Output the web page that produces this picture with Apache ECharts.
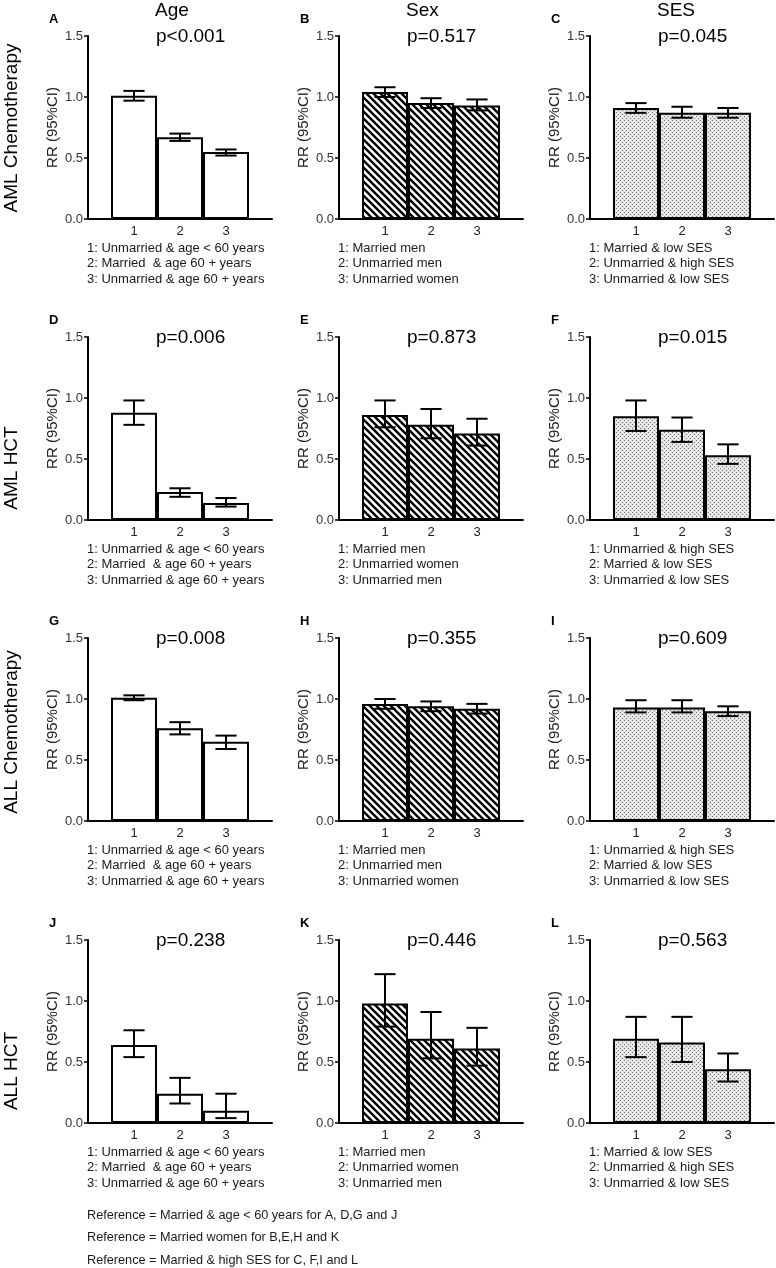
<!DOCTYPE html>
<html>
<head>
<meta charset="utf-8">
<script src="https://cdn.jsdelivr.net/npm/echarts@6/dist/echarts.min.js"></script>
<style>
html, body { margin: 0; padding: 0; background: #fff; }
#main { width: 776px; height: 1268px; }
</style>
</head>
<body>
<div id="main"></div>
<script>
// ---- data ----
var panelLetters = ['A', 'B', 'C', 'D', 'E', 'F', 'G', 'H', 'I', 'J', 'K', 'L'];
var colTitles = ['Age', 'Sex', 'SES'];
var rowTitles = ['AML Chemotherapy', 'AML HCT', 'ALL Chemotherapy', 'ALL HCT'];
var pValues = ['p<0.001', 'p=0.517', 'p=0.045',
               'p=0.006', 'p=0.873', 'p=0.015',
               'p=0.008', 'p=0.355', 'p=0.609',
               'p=0.238', 'p=0.446', 'p=0.563'];
var xTickLabels = ['1', '2', '3'];
var yTicks = [0, 0.5, 1.0, 1.5];

// relative risk per panel (bars 1..3)
var rr = [
    [1.01, 0.67, 0.55], [1.04, 0.95, 0.93], [0.91, 0.87, 0.87],
    [0.88, 0.23, 0.14], [0.86, 0.78, 0.71], [0.85, 0.74, 0.53],
    [1.01, 0.76, 0.65], [0.96, 0.94, 0.92], [0.93, 0.93, 0.90],
    [0.64, 0.24, 0.10], [0.98, 0.69, 0.61], [0.69, 0.66, 0.44]
];
var ciLow = [
    [0.97, 0.64, 0.52], [1.00, 0.91, 0.89], [0.87, 0.83, 0.83],
    [0.78, 0.19, 0.11], [0.76, 0.67, 0.61], [0.73, 0.64, 0.46],
    [0.99, 0.71, 0.59], [0.92, 0.90, 0.88], [0.89, 0.89, 0.86],
    [0.54, 0.16, 0.04], [0.79, 0.53, 0.47], [0.54, 0.50, 0.34]
];
var ciHigh = [
    [1.05, 0.70, 0.57], [1.08, 0.99, 0.98], [0.95, 0.92, 0.91],
    [0.98, 0.26, 0.18], [0.98, 0.91, 0.83], [0.98, 0.84, 0.62],
    [1.03, 0.81, 0.70], [1.00, 0.98, 0.96], [0.99, 0.99, 0.94],
    [0.76, 0.37, 0.24], [1.22, 0.91, 0.78], [0.87, 0.87, 0.57]
];

var ageGroups = ['Unmarried & age < 60 years', 'Married  & age 60 + years', 'Unmarried & age 60 + years'];
var groupNames = [
    ageGroups, ['Married men', 'Unmarried men', 'Unmarried women'], ['Married & low SES', 'Unmarried & high SES', 'Unmarried & low SES'],
    ageGroups, ['Married men', 'Unmarried women', 'Unmarried men'], ['Unmarried & high SES', 'Married & low SES', 'Unmarried & low SES'],
    ageGroups, ['Married men', 'Unmarried men', 'Unmarried women'], ['Unmarried & high SES', 'Married & low SES', 'Unmarried & low SES'],
    ageGroups, ['Married men', 'Unmarried women', 'Unmarried men'], ['Married & low SES', 'Unmarried & high SES', 'Unmarried & low SES']
];
var refNotes = [
    'Reference = Married & age < 60 years for A, D,G and J',
    'Reference = Married women for B,E,H and K',
    'Reference = Married & high SES for C, F,I and L'
];

// ---- layout ----
var FONT = '"Liberation Sans", Arial, sans-serif';
var colLeft = [88, 339, 590];
var rowTop = [36, 337, 638, 940];
var gridW = 184, gridH = 183;
var rowLabelY = [128, 468, 732, 1071];

// fill patterns
function stripePattern() {
    var n = 7;
    var c = document.createElement('canvas');
    c.width = n; c.height = n;
    var g = c.getContext('2d');
    g.fillStyle = '#fff';
    g.fillRect(0, 0, n, n);
    g.strokeStyle = '#000';
    g.lineWidth = 2.4;
    g.beginPath();
    for (var k = -1; k <= 1; k++) {
        g.moveTo(k * n - 1, -1);
        g.lineTo(k * n + n + 1, n + 1);
    }
    g.stroke();
    return c;
}
function dotPattern() {
    var c = document.createElement('canvas');
    c.width = 4; c.height = 4;
    var g = c.getContext('2d');
    g.fillStyle = '#e2e2e2';
    g.fillRect(0, 0, 4, 4);
    g.fillStyle = '#767676';
    g.fillRect(0, 0, 1, 1);
    g.fillRect(2, 2, 1, 1);
    g.fillStyle = '#ffffff';
    g.fillRect(2, 0, 1, 1);
    g.fillRect(0, 2, 1, 1);
    return c;
}
var fills = ['#ffffff', {image: stripePattern(), repeat: 'repeat'}, {image: dotPattern(), repeat: 'repeat'}];

function renderErr(params, api) {
    var x = api.value(0);
    var lo = api.coord([x, api.value(1)]);
    var hi = api.coord([x, api.value(2)]);
    var half = api.size([1, 0])[0] * 0.23;
    var st = {stroke: '#000', lineWidth: 2};
    return {
        type: 'group',
        children: [
            {type: 'line', shape: {x1: hi[0], y1: hi[1], x2: lo[0], y2: lo[1]}, style: st},
            {type: 'line', shape: {x1: hi[0] - half, y1: hi[1], x2: hi[0] + half, y2: hi[1]}, style: st},
            {type: 'line', shape: {x1: lo[0] - half, y1: lo[1], x2: lo[0] + half, y2: lo[1]}, style: st}
        ]
    };
}

var grids = [], xAxes = [], yAxes = [], series = [], graphics = [];
var axisCats = [''].concat(xTickLabels, [' ']);

function txt(x, y, text, size, opts) {
    opts = opts || {};
    return {
        type: 'text',
        x: x, y: y,
        rotation: opts.rotation || 0,
        style: {
            text: text,
            font: (opts.bold ? 'bold ' : '') + size + 'px ' + FONT,
            fill: opts.color || '#000',
            textAlign: opts.align || 'left',
            align: opts.align || 'left',
            textVerticalAlign: 'middle',
            verticalAlign: 'middle'
        }
    };
}

for (var i = 0; i < 12; i++) {
    var r = Math.floor(i / 3), c = i % 3;
    grids.push({left: colLeft[c], top: rowTop[r], width: gridW, height: gridH, outerBoundsMode: 'none'});
    xAxes.push({
        gridIndex: i,
        type: 'category',
        data: axisCats,
        boundaryGap: false,
        axisLine: {lineStyle: {color: '#000', width: 2}},
        axisTick: {show: false},
        axisLabel: {interval: 0, fontSize: 13, color: '#222', margin: 6, fontFamily: FONT}
    });
    yAxes.push({
        gridIndex: i,
        type: 'value',
        min: yTicks[0],
        max: yTicks[yTicks.length - 1],
        interval: 0.5,
        name: 'RR (95%CI)',
        nameLocation: 'middle',
        nameGap: 28,
        nameTextStyle: {fontSize: 15, color: '#222', fontFamily: FONT},
        axisLine: {show: true, lineStyle: {color: '#000', width: 2}},
        axisTick: {show: true, length: 4, lineStyle: {color: '#000', width: 1.5}},
        splitLine: {show: false},
        axisLabel: {
            fontSize: 13, color: '#333', margin: 5, fontFamily: FONT,
            formatter: function (v) { return v.toFixed(1); }
        }
    });
    var barData = [], errData = [];
    for (var k = 0; k < 3; k++) {
        barData.push([k + 1, rr[i][k]]);
        errData.push([k + 1, ciLow[i][k], ciHigh[i][k]]);
    }
    series.push({
        type: 'bar',
        xAxisIndex: i, yAxisIndex: i,
        data: barData,
        barWidth: '100%',
        itemStyle: {color: fills[c], borderColor: '#000', borderWidth: 2},
        silent: true
    });
    series.push({
        type: 'custom',
        xAxisIndex: i, yAxisIndex: i,
        data: errData,
        encode: {x: 0, y: [1, 2]},
        renderItem: renderErr,
        z: 5,
        silent: true
    });

    graphics.push(txt(colLeft[c] - 39, rowTop[r] - 17, panelLetters[i], 13, {bold: true}));
    graphics.push(txt(colLeft[c] + 68, rowTop[r] + 1, pValues[i], 19));
    for (var k = 0; k < 3; k++) {
        graphics.push(txt(colLeft[c] - 1, rowTop[r] + gridH + 29 + 15.8 * k,
            (k + 1) + ': ' + groupNames[i][k], 13, {color: '#1a1a1a'}));
    }
}
for (var c = 0; c < 3; c++) {
    graphics.push(txt(colLeft[c] + 67, 11, colTitles[c], 19));
}
for (var r = 0; r < 4; r++) {
    graphics.push(txt(12, rowLabelY[r], rowTitles[r], 19, {rotation: Math.PI / 2, align: 'center'}));
}
for (var k = 0; k < refNotes.length; k++) {
    graphics.push(txt(87, 1215 + 22.5 * k, refNotes[k], 12.7, {color: '#1a1a1a'}));
}

var chart = echarts.init(document.getElementById('main'), null, {renderer: 'canvas'});
chart.setOption({
    animation: false,
    backgroundColor: '#fff',
    grid: grids,
    xAxis: xAxes,
    yAxis: yAxes,
    series: series,
    graphic: graphics
});
</script>
</body>
</html>
